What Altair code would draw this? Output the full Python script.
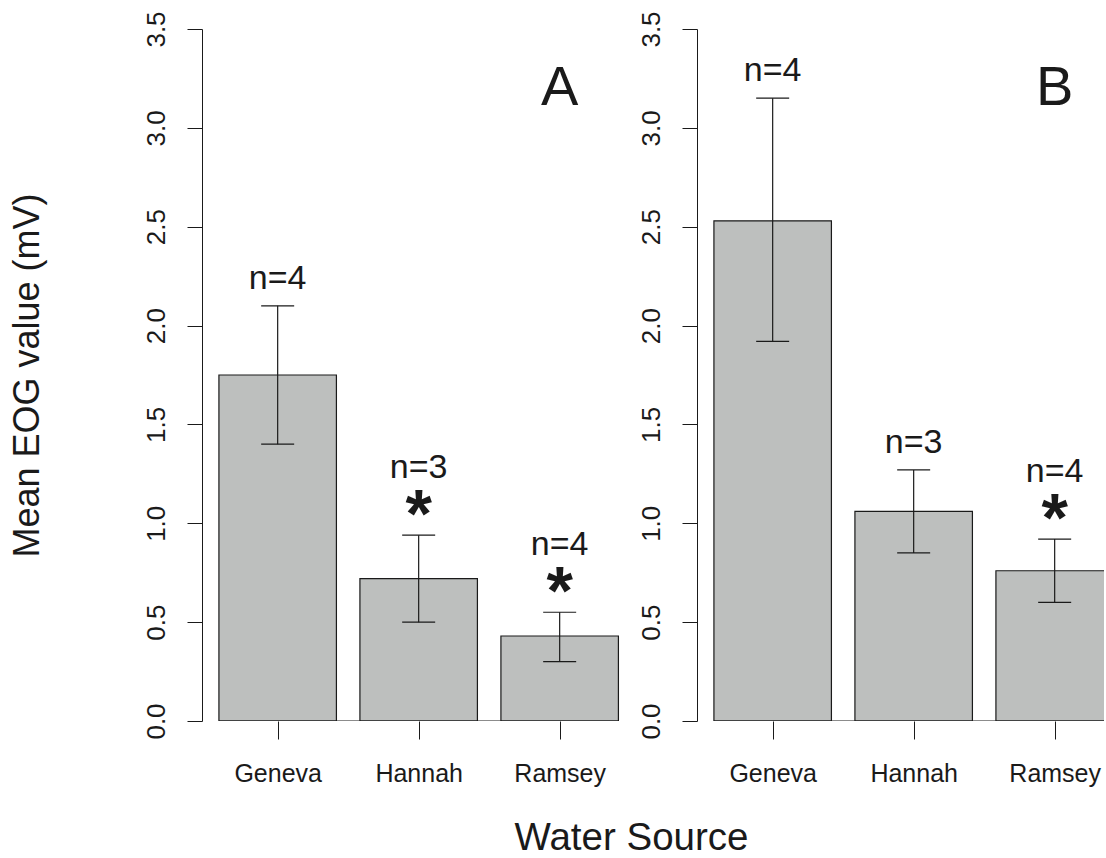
import altair as alt
import pandas as pd

# ---- data ----
sources = ["Geneva", "Hannah", "Ramsey"]

a_mean = [1.75, 0.72, 0.43]
a_lo = [1.40, 0.50, 0.30]
a_hi = [2.10, 0.94, 0.55]
a_n = [4, 3, 4]
a_sig = [False, True, True]

b_mean = [2.53, 1.06, 0.76]
b_lo = [1.92, 0.85, 0.60]
b_hi = [3.15, 1.27, 0.92]
b_n = [4, 3, 4]
b_sig = [False, False, True]

y_ticks = [0.0, 0.5, 1.0, 1.5, 2.0, 2.5, 3.0, 3.5]

FONT = "Liberation Sans"
BAR_FILL = "#bdbfbe"
INK = "#1a1a1a"
PX_PER_UNIT = 117.5  # bar-width units -> pixels
X0 = 0.056           # R barplot xlim start (4% extension)
H = 692

# bar midpoints as in R barplot (width 1, space 0.2)
mids = [0.2 * (i + 1) + i + 0.5 for i in range(len(sources))]
label_expr = " : ".join(
    [f"abs(datum.value - {m}) < 0.01 ? '{s}'" for m, s in zip(mids, sources)]
) + " : ''"


def panel(mean, lo, hi, n, sig, letter, width, first):
    xmax = X0 + width / PX_PER_UNIT
    df = pd.DataFrame({
        "source": sources,
        "mid": mids,
        "mean": mean,
        "lo": lo,
        "hi": hi,
        "nlab": [f"n={k}" for k in n],
        "sig": sig,
    })
    df["left"] = df["mid"] - 0.5
    # a bar running past the panel edge is cut there (as in the figure)
    df["right"] = (df["mid"] + 0.5).clip(upper=xmax + 1.0 / PX_PER_UNIT)

    xs = alt.Scale(domain=[X0, xmax], nice=False, zero=False)
    ys = alt.Scale(domain=[0, 3.5], nice=False, zero=True)

    x_axis = alt.Axis(
        title=None, values=mids, labelExpr=label_expr, domain=False, grid=False,
        tickSize=18, tickColor=INK, tickWidth=1, labelFontSize=25,
        labelFont=FONT, labelColor=INK, labelPadding=22, labelFlush=False,
        labelOverlap=False,
    )
    y_axis_kw = dict(
        values=y_ticks, format=".1f", grid=False, tickSize=15, tickColor=INK,
        domainColor=INK, tickWidth=1, domainWidth=1, labelAngle=-90,
        labelAlign="center", labelBaseline="bottom", labelFontSize=26,
        labelFont=FONT, labelColor=INK, labelPadding=18,
    )
    if first:
        y_axis = alt.Axis(title="Mean EOG value (mV)", titleFontSize=36,
                          titleFont=FONT, titleFontWeight="normal",
                          titleColor=INK, titlePadding=97, **y_axis_kw)
    else:
        y_axis = alt.Axis(title=None, **y_axis_kw)

    base = alt.Chart(df)

    bars = base.mark_bar(fill=BAR_FILL, stroke=INK, strokeWidth=1.2,
                         clip=True).encode(
        x=alt.X("left:Q", scale=xs, axis=x_axis),
        x2="right:Q",
        y=alt.Y("mean:Q", scale=ys, axis=y_axis),
        y2=alt.datum(0),
    )

    baseline = base.transform_aggregate(
        l="min(left)", r="max(right)"
    ).mark_rule(color=INK, strokeWidth=1.2, clip=True).encode(
        x=alt.X("l:Q", scale=xs), x2="r:Q", y=alt.datum(0)
    )

    err = base.mark_rule(color=INK, strokeWidth=1.2, clip=True).encode(
        x=alt.X("mid:Q", scale=xs), y=alt.Y("lo:Q", scale=ys), y2="hi:Q"
    )
    cap_hi = base.mark_tick(orient="horizontal", size=33, thickness=1.2,
                            color=INK, opacity=1, clip=True).encode(
        x=alt.X("mid:Q", scale=xs), y=alt.Y("hi:Q", scale=ys)
    )
    cap_lo = base.mark_tick(orient="horizontal", size=33, thickness=1.2,
                            color=INK, opacity=1, clip=True).encode(
        x=alt.X("mid:Q", scale=xs), y=alt.Y("lo:Q", scale=ys)
    )

    n_plain = base.transform_filter("!datum.sig").mark_text(
        font=FONT, fontSize=34, color=INK, baseline="alphabetic", dy=-17
    ).encode(x=alt.X("mid:Q", scale=xs), y=alt.Y("hi:Q", scale=ys), text="nlab:N")

    n_sig = base.transform_filter("datum.sig").mark_text(
        font=FONT, fontSize=34, color=INK, baseline="alphabetic", dy=-57
    ).encode(x=alt.X("mid:Q", scale=xs), y=alt.Y("hi:Q", scale=ys), text="nlab:N")

    star = base.transform_filter("datum.sig").mark_text(
        font=FONT, fontSize=68, fontWeight="bold", color=INK,
        baseline="alphabetic", dy=2
    ).encode(x=alt.X("mid:Q", scale=xs), y=alt.Y("hi:Q", scale=ys),
             text=alt.value("*"))

    letter_layer = alt.Chart(pd.DataFrame({"t": [letter]})).mark_text(
        font=FONT, fontSize=56, color=INK, baseline="middle", align="center"
    ).encode(x=alt.datum(mids[-1]), y=alt.datum(3.2), text="t:N")

    return alt.layer(bars, baseline, err, cap_hi, cap_lo, n_plain, n_sig,
                     star, letter_layer).properties(width=width, height=H)


pa = panel(a_mean, a_lo, a_hi, a_n, a_sig, "A", 430, True)
pb = panel(b_mean, b_lo, b_hi, b_n, b_sig, "B", 407, False)

chart = alt.hconcat(pa, pb, spacing=5).properties(
    title=alt.TitleParams(
        "Water Source", orient="bottom", anchor="middle", fontSize=38.5,
        font=FONT, fontWeight="normal", color=INK, offset=34, dx=75,
    ),
    padding={"left": 8, "top": 10, "right": 0, "bottom": 0},
    background="white",
).configure_view(stroke=None)

chart.save("out.html", embed_options={"renderer": "svg", "actions": False})
